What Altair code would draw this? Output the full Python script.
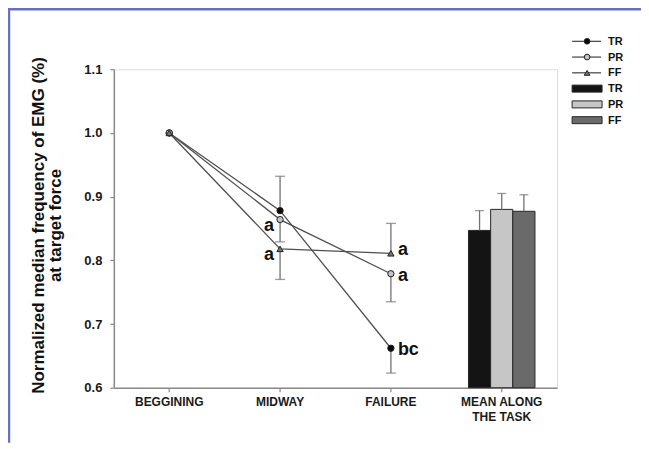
import altair as alt
import pandas as pd

categories = ["BEGGINING", "MIDWAY", "FAILURE", "MEAN ALONG THE TASK"]
stages = categories[:3]
series = ["TR", "PR", "FF"]

tr_values = [1.0, 0.878, 0.662]
pr_values = [1.0, 0.864, 0.779]
ff_values = [1.0, 0.818, 0.811]

tr_errors = [0.0, 0.054, 0.039]
pr_errors = [0.0, 0.035, 0.044]
ff_errors = [0.0, 0.048, 0.047]

tr_error_side = ["none", "up", "down"]
pr_error_side = ["none", "down", "down"]
ff_error_side = ["none", "down", "up"]

tr_letters = ["", "", "bc"]
pr_letters = ["", "a", "a"]
ff_letters = ["", "a", "a"]

mean_values = [0.847, 0.880, 0.877]
mean_errors = [0.031, 0.025, 0.026]

marker_shapes = ["circle", "circle", "triangle-up"]
marker_fills = ["#0a0a0a", "#c4c4c4", "#767676"]
bar_fills = ["#141414", "#c6c6c6", "#6a6a6a"]

FONT = "Liberation Sans"
W, H = 444, 319
PAD = {"left": 106, "top": 61, "right": 84, "bottom": 55}

rows = []
for name, vals, errs, sides, letters in zip(
    series,
    [tr_values, pr_values, ff_values],
    [tr_errors, pr_errors, ff_errors],
    [tr_error_side, pr_error_side, ff_error_side],
    [tr_letters, pr_letters, ff_letters],
):
    for stage, v, e, side, let in zip(stages, vals, errs, sides, letters):
        lo = v - e if side == "down" else v
        hi = v + e if side == "up" else v
        cap = hi if side == "up" else lo
        rows.append(dict(stage=stage, series=name, value=v, lo=lo, hi=hi,
                         cap=cap, has_err=side != "none", letter=let))
line_df = pd.DataFrame(rows)

bar_df = pd.DataFrame({
    "stage": [categories[3]] * 3,
    "series": series,
    "value": mean_values,
    "hi": [m + e for m, e in zip(mean_values, mean_errors)],
})

xscale = alt.Scale(domain=categories, paddingInner=0, paddingOuter=0)
x_enc = alt.X(
    "stage:N", scale=xscale, sort=categories, title=None,
    axis=alt.Axis(
        labelAngle=0, labelFont=FONT, labelFontSize=12, labelFontWeight="bold",
        labelColor="#1a1a1a", tickSize=4, labelPadding=5, domainColor="#8a8a8a",
        tickColor="#8a8a8a", domainWidth=1.5, tickWidth=1.2,
        labelLineHeight=14.5,
        labelExpr="datum.value == 'MEAN ALONG THE TASK' ? ['MEAN ALONG', 'THE TASK'] : datum.value",
    ),
)
yscale = alt.Scale(domain=[0.6, 1.1], nice=False, zero=False)
y_enc = alt.Y(
    "value:Q", scale=yscale,
    axis=alt.Axis(
        values=[0.6, 0.7, 0.8, 0.9, 1.0, 1.1], format=".1f", grid=False,
        labelFont=FONT, labelFontSize=13, labelFontWeight="bold", labelColor="#1a1a1a",
        tickSize=4, labelPadding=8, domainColor="#8a8a8a", tickColor="#8a8a8a",
        domainWidth=1.5, tickWidth=1.2,
        title=["Normalized median frequency of EMG (%)", "at target force"],
        titleFont=FONT, titleFontSize=17, titleFontWeight="bold", titleColor="#111111",
        titleLineHeight=17, titleX=-83, titleY=156, titleBaseline="top", titleAlign="center",
    ),
)
off_scale = alt.Scale(domain=series, paddingInner=0, paddingOuter=1)

base = alt.Chart(line_df)
err_df = base.transform_filter("datum.has_err")

err_rules = err_df.mark_rule(color="#727272", strokeWidth=1.3).encode(
    x=x_enc, y=alt.Y("lo:Q", scale=yscale), y2="hi:Q")
err_caps = err_df.mark_tick(color="#727272", thickness=1.3, size=10).encode(
    x=x_enc, y=alt.Y("cap:Q", scale=yscale))

lines = base.mark_line(color="#505050", strokeWidth=1.3).encode(
    x=x_enc, y=y_enc, detail="series:N")
points = base.mark_point(filled=True, size=40, stroke="#202020", strokeWidth=1,
                         opacity=1).encode(
    x=x_enc, y=alt.Y("value:Q", scale=yscale),
    shape=alt.Shape("series:N", scale=alt.Scale(domain=series, range=marker_shapes), legend=None),
    fill=alt.Fill("series:N", scale=alt.Scale(domain=series, range=marker_fills), legend=None),
)

txt_style = dict(font=FONT, fontSize=18, fontWeight="bold", color="#111111", baseline="alphabetic")
letters_left = base.transform_filter("datum.letter != '' && datum.stage == 'MIDWAY'").mark_text(
    align="right", dx=-6, dy=11, **txt_style).encode(
    x=x_enc, y=alt.Y("value:Q", scale=yscale), text="letter:N")
letters_right_ff = base.transform_filter(
    "datum.letter != '' && datum.stage == 'FAILURE' && datum.series == 'FF'").mark_text(
    align="left", dx=7, dy=2, **txt_style).encode(
    x=x_enc, y=alt.Y("value:Q", scale=yscale), text="letter:N")
letters_right = base.transform_filter(
    "datum.letter != '' && datum.stage == 'FAILURE' && datum.series != 'FF'").mark_text(
    align="left", dx=7, dy=7, **txt_style).encode(
    x=x_enc, y=alt.Y("value:Q", scale=yscale), text="letter:N")

bbase = alt.Chart(bar_df)
bars = bbase.mark_bar(stroke="#262626", strokeWidth=1).encode(
    x=x_enc,
    xOffset=alt.XOffset("series:N", scale=off_scale, sort=series),
    y=alt.Y("value:Q", scale=yscale),
    y2=alt.datum(0.6),
    color=alt.Color("series:N", scale=alt.Scale(domain=series, range=bar_fills), legend=None),
)
bar_err = bbase.mark_rule(color="#727272", strokeWidth=1.3).encode(
    x=x_enc, xOffset=alt.XOffset("series:N", scale=off_scale, sort=series),
    y=alt.Y("value:Q", scale=yscale), y2="hi:Q")
bar_caps = bbase.mark_tick(color="#727272", thickness=1.3, size=9).encode(
    x=x_enc, xOffset=alt.XOffset("series:N", scale=off_scale, sort=series),
    y=alt.Y("hi:Q", scale=yscale))

# legend (layout positions in pixels)
leg_layers = []
row_y0, row_step = -28, 15.8
one = pd.DataFrame({"k": [0]})
for i, name in enumerate(series):
    yy = row_y0 + i * row_step
    c = alt.Chart(one)
    leg_layers.append(c.mark_rule(color="#303030", strokeWidth=1.1).encode(
        x=alt.value(459), x2=alt.value(488), y=alt.value(yy)))
    leg_layers.append(c.mark_point(filled=True, size=32, stroke="#202020", strokeWidth=1,
                                   opacity=1, shape=marker_shapes[i], fill=marker_fills[i]).encode(
        x=alt.value(474), y=alt.value(yy)))
    leg_layers.append(c.mark_text(align="left", baseline="middle", font=FONT, fontSize=11,
                                  fontWeight="bold", color="#111111").encode(
        x=alt.value(495), y=alt.value(yy + 0.5), text=alt.value(name)))
for i, name in enumerate(series):
    yy = row_y0 + (i + 3) * row_step
    c = alt.Chart(one)
    leg_layers.append(c.mark_rect(fill=bar_fills[i], stroke="#262626", strokeWidth=1).encode(
        x=alt.value(459), x2=alt.value(489), y=alt.value(yy - 3.5), y2=alt.value(yy + 3.5)))
    leg_layers.append(c.mark_text(align="left", baseline="middle", font=FONT, fontSize=11,
                                  fontWeight="bold", color="#111111").encode(
        x=alt.value(495), y=alt.value(yy + 0.5), text=alt.value(name)))

# frame lines (partial border as in the original figure)
frame_c = alt.Chart(one)
frame = [
    frame_c.mark_rule(color="#6a70bd", strokeWidth=2.5).encode(
        x=alt.value(-PAD["left"] + 1), y=alt.value(-PAD["top"]), y2=alt.value(H + PAD["bottom"])),
    frame_c.mark_rule(color="#6a70bd", strokeWidth=2.5).encode(
        x=alt.value(-PAD["left"]), x2=alt.value(W + PAD["right"]), y=alt.value(-PAD["top"] + 1)),
]

chart = alt.layer(
    bars, bar_err, bar_caps, err_rules, err_caps, lines, points,
    letters_left, letters_right_ff, letters_right, *leg_layers, *frame
).properties(
    width=W, height=H, padding=PAD,
    autosize=alt.AutoSizeParams(type="none"),
).configure_view(stroke=None).configure(background="white")

chart.save("out.html", embed_options={"renderer": "svg", "actions": False})
